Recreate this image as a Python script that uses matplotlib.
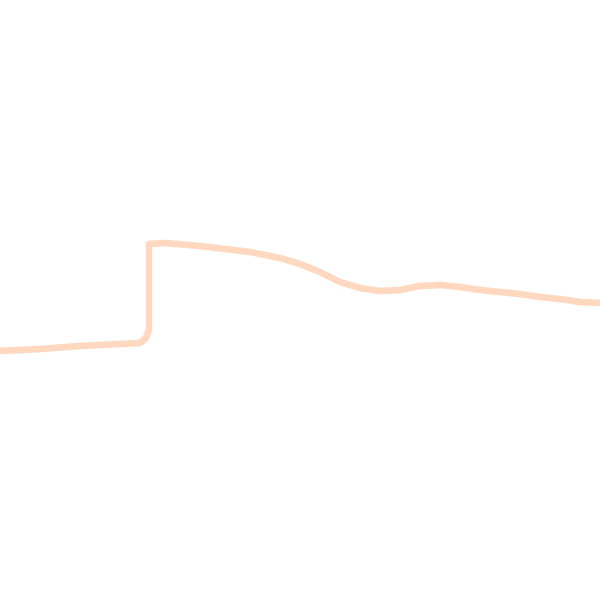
import matplotlib
matplotlib.use("Agg")
import matplotlib.pyplot as plt

# series (x position, level; larger level = lower on screen)
xs = [0, 40, 80, 140, 146, 149, 149, 165, 200, 250, 280, 300, 320, 340,
      360, 380, 400, 420, 440, 460, 480, 500, 520, 540, 560, 580, 600]
ys = [351, 349, 346, 343, 338, 330, 244, 243, 246, 252, 258, 264, 272, 282,
      288, 291, 290, 286, 285, 287, 290, 292, 294, 297, 299, 302, 303]

fig = plt.figure(figsize=(6, 6), dpi=100)
ax = fig.add_axes([0, 0, 1, 1])
ax.plot(xs, ys, color="#ffd8bf", lw=4.8, solid_capstyle="butt")
ax.set_xlim(0, 600)
ax.set_ylim(600, 0)
ax.axis("off")

fig.savefig("out.png", dpi=100)
